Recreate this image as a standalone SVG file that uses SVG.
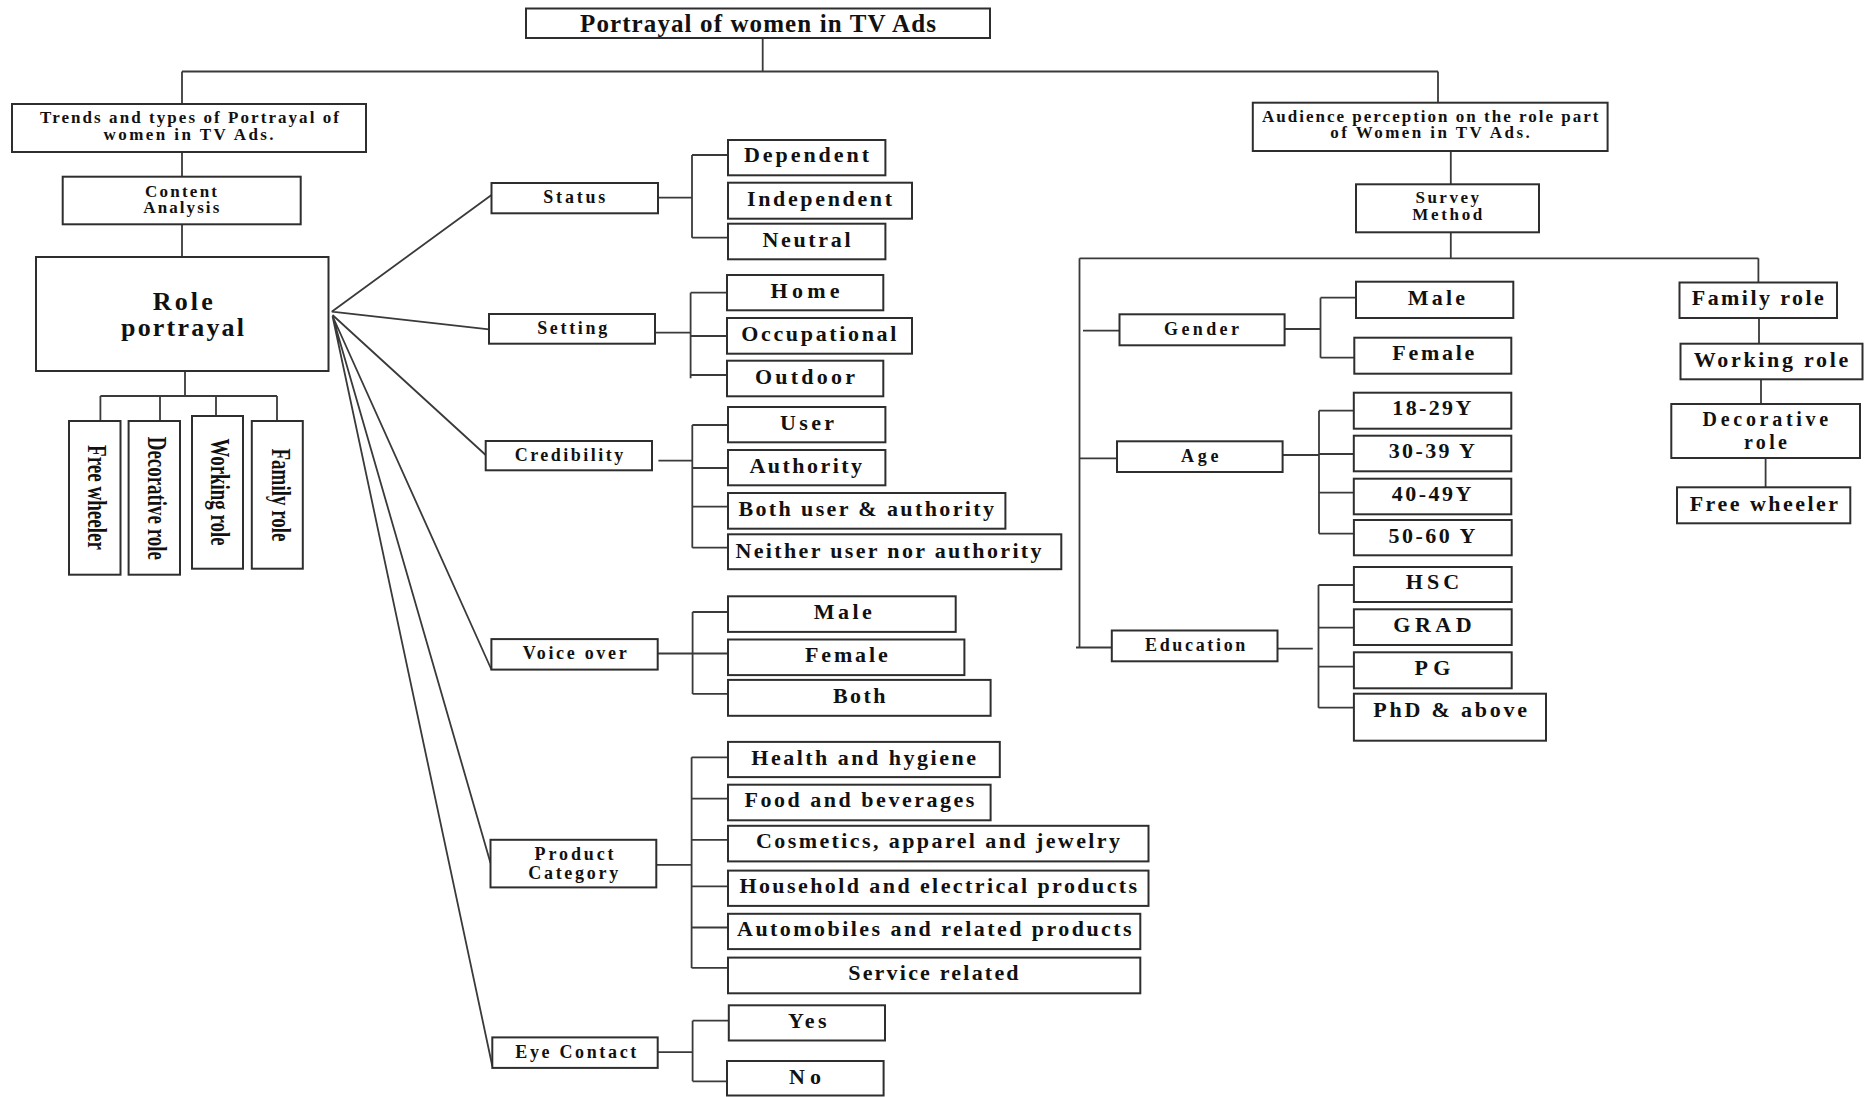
<svg xmlns="http://www.w3.org/2000/svg" width="1864" height="1097" viewBox="0 0 1864 1097">
  <style>
    .bg { fill: #ffffff; }
    .box { fill: #ffffff; stroke: #2e2e2e; stroke-width: 2; }
    .ln { fill: none; stroke: #3a3a3a; stroke-width: 1.8; }
    text { font-family: "Liberation Serif", "Times New Roman", serif; font-weight: bold; fill: #111111; }
    .t-title { font-size: 25px; }
    .t-head { font-size: 17px; }
    .t-big { font-size: 26px; }
    .t-cat { font-size: 18px; }
    .t-item { font-size: 22px; }
    .t-item2 { font-size: 20px; }
    .t-vert { font-size: 28px; }
  </style>
  <rect class="bg" x="0" y="0" width="1864" height="1097"/>

  <!-- connectors -->
  <g id="connectors">
    <path class="ln" d="M762.7 38 V71.5 M182 71.5 H1438 M182 71.5 V104 M1438 71.5 V102.7 M182 152 V176.7 M182 224.3 V257"/>
    <path class="ln" d="M185 371 V396 M100.4 396 H277 M100.4 396 V421 M160 396 V421 M216 396 V416 M277 396 V421"/>
    <path class="ln" d="M331.7 311.7 L491.5 195 M331.7 311.7 L489 329.3 M332.5 315 L485.7 455 M332.5 316 L491.4 669.5 M332.5 316 L490.5 863 M332.5 316 L492.3 1066"/>
    <path class="ln" d="M658 197.7 H692 M692 155 V237.7 M692 155 H728 M692 237.7 H728"/>
    <path class="ln" d="M655 332.7 H690.6 M690.6 292.7 V378.3 M690.6 292.7 H727 M690.6 336 H727 M690.6 375 H727"/>
    <path class="ln" d="M658.4 460.7 H692.3 M692.3 425 V547.7 M692.3 425 H728 M692.3 468 H728 M692.3 506.7 H728 M692.3 547.7 H728"/>
    <path class="ln" d="M657.7 653.5 H728 M692.6 612 V693.9 M692.6 612 H728 M692.6 693.9 H728"/>
    <path class="ln" d="M656.3 864.8 H691.6 M691.6 757.3 V967.9 M691.6 757.3 H728 M691.6 798.7 H728 M691.6 839.8 H728 M691.6 886.4 H728 M691.6 927.5 H728 M691.6 967.9 H728"/>
    <path class="ln" d="M657.7 1052.2 H692.6 M692.6 1020.7 V1081.3 M692.6 1020.7 H728.8 M692.6 1081.3 H727"/>
    <path class="ln" d="M1450.8 151 V184.3 M1450.8 232.3 V258.3 M1079.5 258.3 H1758.4 M1079.5 258.3 V647.5 M1758.4 258.3 V282.5 M1759 318 V343.7 M1761 379.3 V404 M1765.6 458 V487.3"/>
    <path class="ln" d="M1083 330.7 H1119.5 M1284.6 329 H1320.5 M1320.5 297.7 V357.7 M1320.5 297.7 H1356 M1320.5 357.7 H1354.3"/>
    <path class="ln" d="M1079.5 458.3 H1117 M1282.6 455 H1319 M1319 410.7 V533.7 M1319 410.7 H1353.8 M1319 454 H1353.8 M1319 492.7 H1353.8 M1319 533.7 H1353.8"/>
    <path class="ln" d="M1076 647.5 H1111.8 M1277.5 648.7 H1312.8 M1318.5 585 V707.7 M1318.5 585 H1353.9 M1318.5 627.7 H1353.9 M1318.5 666.7 H1353.9 M1318.5 707.7 H1353.9"/>
  </g>

  <!-- root -->
  <g id="n-title">
    <rect class="box" x="526" y="8.5" width="464" height="29.5"/>
    <text class="t-title" x="580" y="31.5" textLength="356">Portrayal of women in TV Ads</text>
  </g>

  <!-- left branch: content analysis -->
  <g id="n-trends">
    <rect class="box" x="12" y="104" width="354" height="48"/>
    <text class="t-head" x="40" y="123" textLength="299">Trends and types of Portrayal of</text>
    <text class="t-head" x="103.6" y="140" textLength="170">women in TV Ads.</text>
  </g>
  <g id="n-content">
    <rect class="box" x="62.7" y="176.7" width="238" height="47.6"/>
    <text class="t-head" x="145" y="196.5" textLength="72">Content</text>
    <text class="t-head" x="143.3" y="213.3" textLength="76">Analysis</text>
  </g>
  <g id="n-role">
    <rect class="box" x="36" y="257" width="292.5" height="114"/>
    <text class="t-big" x="152.7" y="309.5" textLength="60">Role</text>
    <text class="t-big" x="121" y="336" textLength="123">portrayal</text>
  </g>

  <g id="n-free-wheeler-l">
    <rect class="box" x="69" y="421" width="51.5" height="153.7"/>
    <text class="t-vert" transform="translate(87.5 497.5) rotate(90)" text-anchor="middle" textLength="105" lengthAdjust="spacingAndGlyphs">Free wheeler</text>
  </g>
  <g id="n-decorative-l">
    <rect class="box" x="128.6" y="421" width="51.4" height="153.7"/>
    <text class="t-vert" transform="translate(147.5 498.3) rotate(90)" text-anchor="middle" textLength="123" lengthAdjust="spacingAndGlyphs">Decorative role</text>
  </g>
  <g id="n-working-l">
    <rect class="box" x="192" y="416" width="51" height="152.7"/>
    <text class="t-vert" transform="translate(210.5 492) rotate(90)" text-anchor="middle" textLength="107" lengthAdjust="spacingAndGlyphs">Working role</text>
  </g>
  <g id="n-family-l">
    <rect class="box" x="251.8" y="421" width="51" height="147.7"/>
    <text class="t-vert" transform="translate(272 495) rotate(90)" text-anchor="middle" textLength="93" lengthAdjust="spacingAndGlyphs">Family role</text>
  </g>

  <!-- categories -->
  <g id="n-status">
    <rect class="box" x="491.5" y="183" width="166.5" height="30.3"/>
    <text class="t-cat" x="543.3" y="202.7" textLength="62">Status</text>
  </g>
  <g id="n-setting">
    <rect class="box" x="489" y="314" width="166" height="29.7"/>
    <text class="t-cat" x="537.2" y="334.3" textLength="70">Setting</text>
  </g>
  <g id="n-credibility">
    <rect class="box" x="485.7" y="441" width="166.3" height="29.3"/>
    <text class="t-cat" x="514.7" y="461" textLength="108.6">Credibility</text>
  </g>
  <g id="n-voice">
    <rect class="box" x="491.4" y="639.1" width="166.3" height="30.5"/>
    <text class="t-cat" x="522.7" y="659.3" textLength="104">Voice over</text>
  </g>
  <g id="n-product">
    <rect class="box" x="490.5" y="839.8" width="165.8" height="47.6"/>
    <text class="t-cat" x="534.6" y="860" textLength="79">Product</text>
    <text class="t-cat" x="528.2" y="878.5" textLength="90">Category</text>
  </g>
  <g id="n-eye">
    <rect class="box" x="492.3" y="1037.4" width="165.4" height="30.5"/>
    <text class="t-cat" x="515.3" y="1057.6" textLength="121">Eye Contact</text>
  </g>

  <!-- status items -->
  <g id="n-dependent"><rect class="box" x="728" y="140" width="157.4" height="35.3"/><text class="t-item" x="744" y="162.3" textLength="125">Dependent</text></g>
  <g id="n-independent"><rect class="box" x="728" y="182.7" width="184" height="36"/><text class="t-item" x="747" y="205.7" textLength="145">Independent</text></g>
  <g id="n-neutral"><rect class="box" x="728" y="223.7" width="157.4" height="35.6"/><text class="t-item" x="762.5" y="246.7" textLength="88">Neutral</text></g>

  <!-- setting items -->
  <g id="n-home"><rect class="box" x="727" y="275" width="156.3" height="35.3"/><text class="t-item" x="770.6" y="298" textLength="69">Home</text></g>
  <g id="n-occupational"><rect class="box" x="727" y="318" width="185" height="35.7"/><text class="t-item" x="741.3" y="340.7" textLength="155">Occupational</text></g>
  <g id="n-outdoor"><rect class="box" x="727" y="360.7" width="156.3" height="35.6"/><text class="t-item" x="755" y="384.3" textLength="100">Outdoor</text></g>

  <!-- credibility items -->
  <g id="n-user"><rect class="box" x="728" y="407" width="157.4" height="35.3"/><text class="t-item" x="780" y="430" textLength="54">User</text></g>
  <g id="n-authority"><rect class="box" x="728" y="450" width="157.4" height="35.3"/><text class="t-item" x="749.4" y="472.7" textLength="112.6">Authority</text></g>
  <g id="n-both-ua"><rect class="box" x="728" y="493" width="277.4" height="35.7"/><text class="t-item" x="738.4" y="515.7" textLength="255.6">Both user &amp; authority</text></g>
  <g id="n-neither"><rect class="box" x="728" y="534.3" width="333.3" height="34.9"/><text class="t-item" x="735.5" y="557.5" textLength="306">Neither user nor authority</text></g>

  <!-- voice over items -->
  <g id="n-vo-male"><rect class="box" x="728" y="596.3" width="227.7" height="35.6"/><text class="t-item" x="813.8" y="619.3" textLength="58">Male</text></g>
  <g id="n-vo-female"><rect class="box" x="728" y="639.5" width="236.4" height="35.6"/><text class="t-item" x="805" y="662" textLength="82.7">Female</text></g>
  <g id="n-vo-both"><rect class="box" x="728" y="679.9" width="262.6" height="35.9"/><text class="t-item" x="833" y="703.2" textLength="52.4">Both</text></g>

  <!-- product items -->
  <g id="n-health"><rect class="box" x="728" y="741.9" width="271.8" height="35.2"/><text class="t-item" x="751.3" y="764.8" textLength="224.6">Health and hygiene</text></g>
  <g id="n-food"><rect class="box" x="728" y="784.7" width="262.6" height="35.6"/><text class="t-item" x="744.4" y="807.3" textLength="230">Food and beverages</text></g>
  <g id="n-cosmetics"><rect class="box" x="728" y="825.8" width="420.5" height="35.6"/><text class="t-item" x="756" y="848.4" textLength="364">Cosmetics, apparel and jewelry</text></g>
  <g id="n-household"><rect class="box" x="728" y="870.6" width="420.5" height="35.3"/><text class="t-item" x="739.4" y="892.9" textLength="397.7">Household and electrical products</text></g>
  <g id="n-automobiles"><rect class="box" x="728" y="913.8" width="412.3" height="35.3"/><text class="t-item" x="737.1" y="936.4" textLength="394.5">Automobiles and related products</text></g>
  <g id="n-service"><rect class="box" x="728" y="957.6" width="412.3" height="35.7"/><text class="t-item" x="848.2" y="979.9" textLength="170.4">Service related</text></g>

  <!-- eye contact items -->
  <g id="n-yes"><rect class="box" x="728.8" y="1005.3" width="156.2" height="35.2"/><text class="t-item" x="788" y="1027.9" textLength="38.6">Yes</text></g>
  <g id="n-no"><rect class="box" x="727" y="1061" width="156.6" height="34.5"/><text class="t-item" x="789" y="1084" textLength="32">No</text></g>

  <!-- right branch: survey -->
  <g id="n-audience">
    <rect class="box" x="1252.8" y="102.7" width="354.8" height="48.3"/>
    <text class="t-head" x="1262" y="121.7" textLength="336.4">Audience perception on the role part</text>
    <text class="t-head" x="1330.3" y="138.3" textLength="199.4">of Women in TV Ads.</text>
  </g>
  <g id="n-survey">
    <rect class="box" x="1356" y="184.3" width="183" height="48"/>
    <text class="t-head" x="1415.4" y="203.3" textLength="63.6">Survey</text>
    <text class="t-head" x="1412.3" y="220" textLength="70">Method</text>
  </g>

  <g id="n-family-r"><rect class="box" x="1679.5" y="282.5" width="157.5" height="35.5"/><text class="t-item" x="1691.8" y="305" textLength="132">Family role</text></g>
  <g id="n-working-r"><rect class="box" x="1680.5" y="343.7" width="182" height="35.6"/><text class="t-item" x="1693.8" y="366.7" textLength="154.4">Working role</text></g>
  <g id="n-decorative-r">
    <rect class="box" x="1671.3" y="404" width="188.7" height="54"/>
    <text class="t-item2" x="1702.5" y="425.5" textLength="125.7">Decorative</text>
    <text class="t-item2" x="1744" y="448.5" textLength="43">role</text>
  </g>
  <g id="n-free-wheeler-r"><rect class="box" x="1677" y="487.3" width="173.3" height="36"/><text class="t-item" x="1689.7" y="510.7" textLength="148.3">Free wheeler</text></g>

  <g id="n-gender"><rect class="box" x="1119.5" y="314.3" width="165.1" height="31"/><text class="t-cat" x="1164" y="335" textLength="75">Gender</text></g>
  <g id="n-age"><rect class="box" x="1117" y="441.3" width="165.6" height="30.7"/><text class="t-cat" x="1181" y="461.7" textLength="37.5">Age</text></g>
  <g id="n-education"><rect class="box" x="1111.8" y="630.5" width="165.7" height="30.8"/><text class="t-cat" x="1145" y="650.7" textLength="100.3">Education</text></g>

  <g id="n-g-male"><rect class="box" x="1356" y="281.7" width="157.3" height="36.3"/><text class="t-item" x="1407.7" y="305" textLength="57.3">Male</text></g>
  <g id="n-g-female"><rect class="box" x="1354.3" y="337.7" width="157" height="36"/><text class="t-item" x="1392.3" y="360" textLength="82">Female</text></g>

  <g id="n-age-18"><rect class="box" x="1353.8" y="392.7" width="157.5" height="36"/><text class="t-item" x="1392.3" y="415.3" textLength="79">18-29Y</text></g>
  <g id="n-age-30"><rect class="box" x="1353.8" y="435.7" width="157.5" height="35.6"/><text class="t-item" x="1388.7" y="458.3" textLength="86.2">30-39 Y</text></g>
  <g id="n-age-40"><rect class="box" x="1353.8" y="478.7" width="157.5" height="35.6"/><text class="t-item" x="1391.8" y="501" textLength="79.5">40-49Y</text></g>
  <g id="n-age-50"><rect class="box" x="1353.9" y="520" width="157.8" height="35.3"/><text class="t-item" x="1388.5" y="542.7" textLength="86.8">50-60 Y</text></g>

  <g id="n-hsc"><rect class="box" x="1353.9" y="567" width="157.8" height="35"/><text class="t-item" x="1405.7" y="589.3" textLength="53.5">HSC</text></g>
  <g id="n-grad"><rect class="box" x="1353.9" y="609.3" width="157.8" height="35.7"/><text class="t-item" x="1393.2" y="632.3" textLength="78.5">GRAD</text></g>
  <g id="n-pg"><rect class="box" x="1353.9" y="652.3" width="157.8" height="36"/><text class="t-item" x="1414.6" y="675.3" textLength="35.7">PG</text></g>
  <g id="n-phd"><rect class="box" x="1353.9" y="693.7" width="192.1" height="47"/><text class="t-item" x="1373.2" y="716.7" textLength="153.9">PhD &amp; above</text></g>
</svg>
